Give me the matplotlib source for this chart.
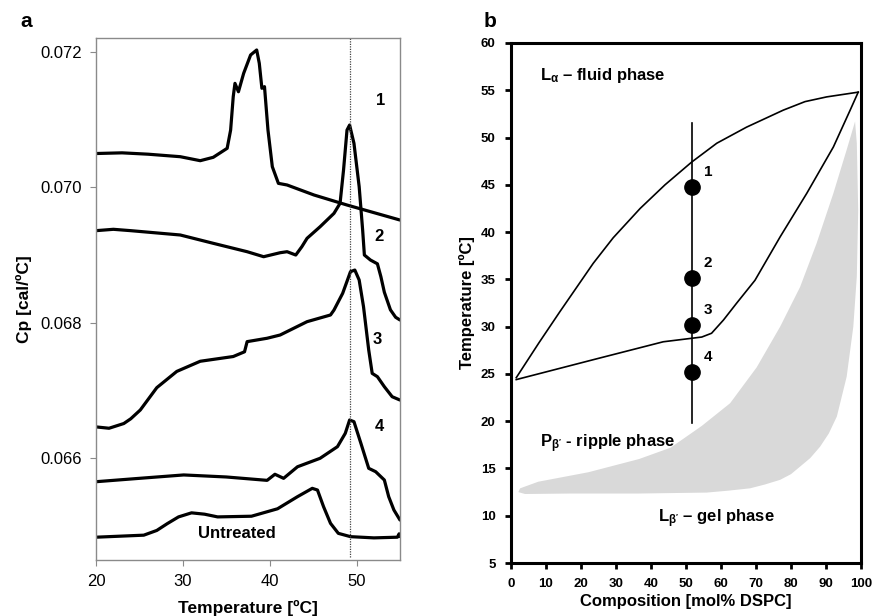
import numpy as np
import matplotlib.pyplot as plt

plt.rcParams['font.family'] = ['Liberation Sans', 'DejaVu Sans']
plt.rcParams['mathtext.fontset'] = 'custom'
plt.rcParams['mathtext.rm'] = 'Liberation Sans'
plt.rcParams['mathtext.it'] = 'Liberation Sans:italic'
plt.rcParams['mathtext.bf'] = 'Liberation Sans:bold'

# --- panel a: DSC thermograms (T in °C, Cp in cal/°C) ---
t1 = [20, 23, 26, 29.7, 32.0, 33.5, 35.1, 35.5, 35.8, 36.0, 36.4, 37.0, 37.8, 38.5, 38.8, 39.1,
      39.4, 39.8, 40.3, 41.0, 42.0, 45.1, 48.9, 55]
cp1 = [0.07050, 0.07051, 0.07049, 0.070453, 0.070394, 0.070444, 0.070577, 0.070847, 0.071340,
       0.071537, 0.071413, 0.071685, 0.071956, 0.072030, 0.071833, 0.071464, 0.071488, 0.070847,
       0.070305, 0.070059, 0.070035, 0.069887, 0.069739, 0.069517]

t2 = [20, 22, 24, 29.7, 33.5, 37.4, 39.3, 41.2, 42.0, 43.0, 43.7, 44.3, 45.8, 47.4, 48.1, 48.5,
      48.9, 49.2, 49.7, 50.3, 50.7, 50.9, 51.6, 52.4, 52.8, 53.2, 53.9, 54.5, 55]
cp2 = [0.06936, 0.06938, 0.06936, 0.069296, 0.069173, 0.069049, 0.068975, 0.069034, 0.069049,
       0.069000, 0.069123, 0.069247, 0.069418, 0.069616, 0.069764, 0.070256, 0.070847, 0.070921,
       0.070651, 0.070010, 0.069370, 0.069000, 0.068926, 0.068870, 0.068680, 0.068450, 0.068190,
       0.068080, 0.068040]

t3 = [20, 21.5, 23.2, 24.0, 25.1, 27.0, 29.3, 32.0, 35.8, 37.1, 37.4, 39.7, 41.2, 44.3, 47.0,
      47.4, 48.4, 49.3, 49.8, 50.3, 50.8, 51.4, 51.8, 52.4, 53.2, 54.1, 55]
cp3 = [0.06646, 0.06644, 0.06651, 0.06658, 0.06671, 0.06704, 0.06728, 0.06743, 0.06750, 0.06757,
       0.06772, 0.06777, 0.067818, 0.068015, 0.068114, 0.068187, 0.068434, 0.068754, 0.068778,
       0.068631, 0.068237, 0.067596, 0.067251, 0.067202, 0.067054, 0.066906, 0.066857]

t4 = [20, 25, 30.1, 35, 39.7, 40.6, 41.6, 43.2, 45.8, 47.8, 48.7, 49.2, 49.7, 50.5, 51.4, 52.2,
      53.2, 53.7, 54.3, 55]
cp4 = [0.06565, 0.06570, 0.06575, 0.06572, 0.06567, 0.06576, 0.06570, 0.065871, 0.065996,
       0.066168, 0.066365, 0.066562, 0.066537, 0.066217, 0.065848, 0.065798, 0.065675, 0.065429,
       0.065232, 0.065084]

t_untr = [20, 25.5, 27.0, 28.2, 29.5, 31.0, 32.5, 34.0, 37.9, 40.9, 43.2, 44.9, 45.5, 46.2, 47.0,
          47.9, 49.3, 52, 54.7, 54.9, 55]
cp_untr = [0.06483, 0.06486, 0.06493, 0.06503, 0.06513, 0.06519, 0.06517, 0.06513, 0.06514,
           0.06525, 0.065429, 0.065552, 0.065527, 0.065281, 0.065035, 0.064887, 0.064838,
           0.06482, 0.06483, 0.06488, 0.06484]

curve_labels = ['1', '2', '3', '4', 'Untreated']
label_t = [52.8, 52.6, 52.4, 52.6, 36.2]
label_cp = [0.07129, 0.06927, 0.06775, 0.06646, 0.06489]
t_peak = 49.3

# --- panel b: phase diagram ---
liq_x = [1.5, 8, 14, 23.5, 29.2, 36.9, 44, 51.6, 58.8, 67.3, 77.8, 84, 90.2, 99.2]
liq_y = [24.6, 28.3, 31.6, 36.7, 39.4, 42.5, 45.0, 47.4, 49.4, 51.1, 52.9, 53.8, 54.3, 54.8]
sol_x = [1.5, 24.5, 43.5, 54.5, 57.3, 60.7, 64.5, 69.7, 76.9, 84.5, 92.1, 96.9, 99.2]
sol_y = [24.4, 26.6, 28.4, 28.9, 29.3, 30.7, 32.5, 34.9, 39.5, 44.1, 49.0, 52.9, 54.8]

gray_x = [2.1, 4, 17.3, 36.4, 55.9, 62, 68.3, 72.5, 76.9, 80, 82.6, 85.5, 88.3, 90.8, 93.1,
          95.9, 97.8, 98.8, 99.2, 98.8, 98.3,
          95.9, 92.1, 87.3, 82.6, 76.9, 70.2, 62.6, 54.5, 45.6, 36.6, 22.1, 7.8, 2.6]
gray_y = [12.5, 12.3, 12.35, 12.35, 12.45, 12.65, 12.9, 13.3, 13.8, 14.4, 15.2, 16.1, 17.3, 18.7,
          20.5, 24.7, 30.0, 35.3, 42.3, 49.4, 51.7,
          48.7, 44.1, 38.8, 34.2, 30.0, 25.7, 21.9, 19.5, 17.2, 16.0, 14.6, 13.6, 12.9]

comp_line = 51.7
line_t = [19.8, 51.5]
sample_t = [44.8, 35.1, 30.2, 25.2]
sample_names = ['1', '2', '3', '4']

fig = plt.figure(figsize=(8.72, 6.16), dpi=100)

# panel a
ax1 = fig.add_axes([0.1101, 0.0909, 0.3486, 0.8474])
for t, cp in [(t1, cp1), (t2, cp2), (t3, cp3), (t4, cp4), (t_untr, cp_untr)]:
    ax1.plot(t, cp, color='black', lw=2.3, solid_joinstyle='round', solid_capstyle='round')
ax1.axvline(t_peak, color='#444444', lw=0.9, ls=(0, (1, 1)), ymin=0.005, ymax=1.0)
for name, x, y in zip(curve_labels, label_t, label_cp):
    ax1.text(x, y, name, fontsize=12, fontweight='bold', ha='center', va='center')
ax1.set_xlim(20, 55)
ax1.set_ylim(0.064493, 0.072207)
ax1.set_xticks([20, 30, 40, 50])
ax1.set_yticks([0.066, 0.068, 0.070, 0.072])
ax1.set_yticklabels(['0.066', '0.068', '0.070', '0.072'])
for sp in ax1.spines.values():
    sp.set_color('#8a8a8a')
    sp.set_linewidth(1.0)
ax1.tick_params(direction='out', length=4, width=0.8, color='#8a8a8a', labelsize=12, pad=6)
ax1.set_xlabel('Temperature [ºC]', fontsize=12.5, fontweight='bold', labelpad=8)
ax1.set_ylabel('Cp [cal/ºC]', fontsize=12.5, fontweight='bold', labelpad=6)
fig.text(0.023, 0.965, 'a', fontsize=15, fontweight='bold', ha='left', va='center')

# panel b
ax2 = fig.add_axes([0.586, 0.0860, 0.4014, 0.8442])
ax2.fill(gray_x, gray_y, color='#d9d9d9', lw=0)
ax2.plot(liq_x, liq_y, color='black', lw=1.2)
ax2.plot(sol_x, sol_y, color='black', lw=1.2)
ax2.plot([comp_line, comp_line], line_t, color='black', lw=1.2)
ax2.plot([comp_line] * len(sample_t), sample_t, 'o', color='black', ms=11)
for name, y in zip(sample_names, sample_t):
    ax2.text(comp_line + 3.3, y + 1.6, name, fontsize=11, fontweight='bold', ha='left', va='center')
ax2.text(8.3, 56.6, r'L$_{\mathbf{\alpha}}$ – fluid phase', fontsize=12, fontweight='bold', va='center')
ax2.text(8.3, 17.6, r"P$_{\mathbf{\beta'}}$ - ripple phase", fontsize=12, fontweight='bold', va='center')
ax2.text(42.1, 9.7, r"L$_{\mathbf{\beta'}}$ – gel phase", fontsize=12, fontweight='bold', va='center')
ax2.set_xlim(0, 100)
ax2.set_ylim(5, 60)
ax2.set_xticks(np.arange(0, 101, 10))
ax2.set_yticks(np.arange(5, 61, 5))
for sp in ax2.spines.values():
    sp.set_linewidth(2.2)
ax2.tick_params(direction='out', length=4, width=2, labelsize=9.5, pad=7)
for lab in ax2.get_xticklabels() + ax2.get_yticklabels():
    lab.set_fontweight('bold')
ax2.set_xlabel('Composition [mol% DSPC]', fontsize=12, fontweight='bold', labelpad=3)
ax2.set_ylabel('Temperature [ºC]', fontsize=12, fontweight='bold', labelpad=4)
fig.text(0.555, 0.965, 'b', fontsize=15, fontweight='bold', ha='left', va='center')

fig.savefig('out.png', dpi=100)
